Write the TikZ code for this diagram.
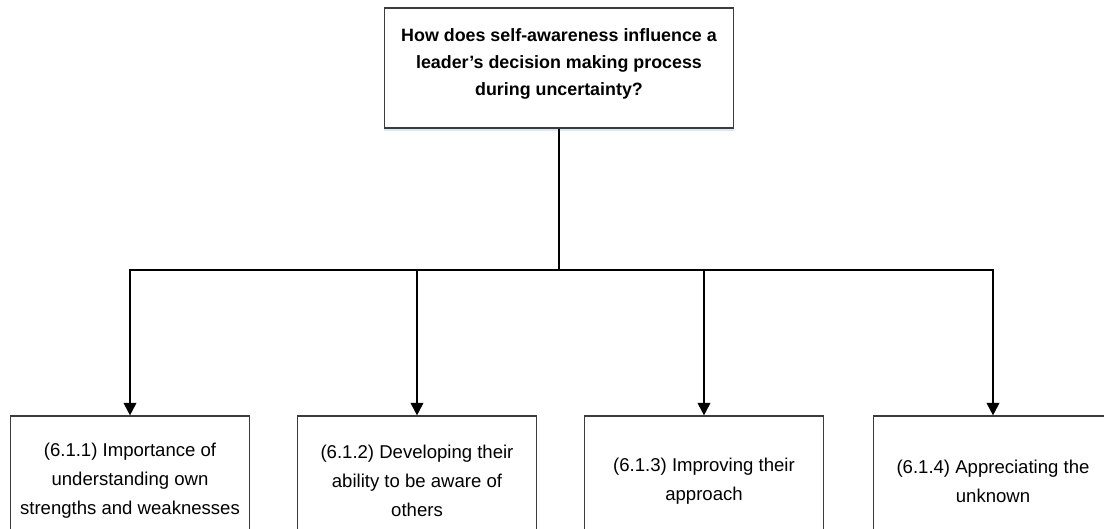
\documentclass[tikz,border=0pt]{standalone}
\usepackage{fontspec}
\setmainfont{Liberation Sans}
\usetikzlibrary{arrows.meta,shadows}
\definecolor{shadowblue}{RGB}{220,231,244}
\definecolor{boxline}{RGB}{60,60,60}

\begin{document}
\begin{tikzpicture}[x=0.025cm,y=-0.025cm,
            question/.style={draw=boxline, line width=0.8pt, fill=white, align=center, inner sep=0pt,
                minimum width=8.725cm, minimum height=3cm, font=\bfseries\fontsize{12.7pt}{19.2pt}\selectfont,
                drop shadow={shadow xshift=0pt, shadow yshift=-2.2pt, fill=shadowblue, opacity=1}},
            theme/.style={draw=boxline, line width=0.8pt, align=center, inner sep=0pt,
                minimum width=5.975cm, minimum height=3.25cm, font=\fontsize{13.2pt}{20.6pt}\selectfont},
            link/.style={line width=1.4pt, black}]
            \useasboundingbox (0,0) rectangle (1104,528);
            \clip (0,0) rectangle (1104,528);
            \node[question] (ques) at (559,68) {How does self-awareness influence a\\leader’s decision making process\\during uncertainty?\rule[-9pt]{0pt}{9pt}};
            \node[theme] (t1) at (130,481) {(6.1.1) Importance of\\understanding own\\strengths and weaknesses};
            \node[theme] (t2) at (417,481) {(6.1.2) Developing their\\ability to be aware of\\others};
            \node[theme] (t3) at (704,481) {(6.1.3) Improving their\\approach};
            \node[theme] (t4) at (993,481) {(6.1.4) Appreciating the\\unknown};
            \coordinate (split) at (559,270);
            \draw[link] (ques) -- (split);
            \foreach \t in {t1,t2,t3,t4}
                \draw[link, -{Triangle[width=9pt,length=9pt]}] (split) -| (\t);
        \end{tikzpicture}
\end{document}
